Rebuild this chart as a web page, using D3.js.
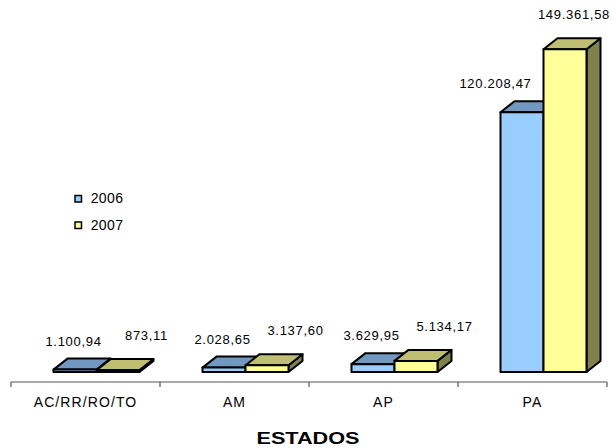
<!DOCTYPE html>
<html>
<head>
<meta charset="utf-8">
<script src="https://cdn.jsdelivr.net/npm/d3@7"></script>
<style>
  html, body { margin: 0; padding: 0; background: #fff; }
  text { font-family: "Liberation Sans", Arial, sans-serif; fill: #000; }
</style>
</head>
<body>
<svg id="chart" width="612" height="448"></svg>
<script>
// ---- data ----
const categories = ["AC/RR/RO/TO", "AM", "AP", "PA"];
const series = ["2006", "2007"];
const values2006 = [1100.94, 2028.65, 3629.95, 120208.47];
const values2007 = [873.11, 3137.60, 5134.17, 149361.58];
const axisTitle = "ESTADOS";

// ---- styles ----
const colors = {
  "2006": { front: "#99CCFF", top: "#7098C0", side: "#4D6680" },
  "2007": { front: "#FFFF99", top: "#BFBF73", side: "#80804D" }
};

const svg = d3.select("#chart");
const W = 612, H = 448;
const depthX = 14, depthY = 11;
const barW = 43;
const groupOffset = 42.5;

const x = d3.scaleBand().domain(categories).range([11, 607]).paddingInner(0).paddingOuter(0);
const xs = d3.scaleBand().domain(series).range([0, barW * 2]);
const y = d3.scaleLinear().domain([0, 160000]).range([372, 26.3]);

const fmt = d3.formatLocale({ decimal: ",", thousands: ".", grouping: [3], currency: ["", ""] }).format(",.2f");

const rows = categories.map((c, i) => ({ cat: c, vals: { "2006": values2006[i], "2007": values2007[i] } }));

// ---- bars ----
const gBars = svg.append("g");
const base = y(0);
function barGeom(c, s, v) {
  const L = x(c) + groupOffset + xs(s);
  const T = y(v);
  return { L, T, B: base, w: xs.bandwidth() };
}
rows.forEach(r => {
  series.forEach(s => {
    const g = barGeom(r.cat, s, r.vals[s]);
    const grp = gBars.append("g")
      .attr("stroke", "#000").attr("stroke-width", 2).attr("stroke-linejoin", "round");
    grp.append("polygon")
      .attr("points", [[g.L + g.w, g.T], [g.L + g.w + depthX, g.T - depthY], [g.L + g.w + depthX, g.B - depthY], [g.L + g.w, g.B]].join(" "))
      .attr("fill", colors[s].side);
    grp.append("polygon")
      .attr("points", [[g.L, g.T], [g.L + depthX, g.T - depthY], [g.L + g.w + depthX, g.T - depthY], [g.L + g.w, g.T]].join(" "))
      .attr("fill", colors[s].top);
    grp.append("rect")
      .attr("x", g.L).attr("y", g.T).attr("width", g.w).attr("height", Math.max(0, g.B - g.T))
      .attr("fill", colors[s].front);
  });
});

// ---- value labels ----
const gLabels = svg.append("g").attr("font-size", 13).attr("letter-spacing", 0.7).attr("text-anchor", "middle");
rows.forEach(r => {
  const g6 = barGeom(r.cat, "2006", r.vals["2006"]);
  const g7 = barGeom(r.cat, "2007", r.vals["2007"]);
  // 2006 label
  const t6 = gLabels.append("text").text(fmt(r.vals["2006"]));
  const w6 = t6.node().getComputedTextLength();
  let cx6 = g6.L + 20;
  const by6 = g6.T - 24;
  if (g7.T - depthY < by6 && cx6 + w6 / 2 > g7.L - 12) cx6 = g7.L - 12 - w6 / 2;
  t6.attr("x", cx6).attr("y", by6);
  // 2007 label
  const t7 = gLabels.append("text").text(fmt(r.vals["2007"]));
  const w7 = t7.node().getComputedTextLength();
  let cx7 = Math.min(g7.L + 50, W - w7 / 2 - 2);
  t7.attr("x", cx7).attr("y", g7.T - 30);
});

// ---- axis ----
const axisY = 382;
const gAxis = svg.append("g").attr("transform", `translate(0,${axisY})`);
gAxis.call(d3.axisBottom(x).tickSize(0).tickPadding(15))
  .call(g => g.select(".domain").remove())
  .selectAll("text")
  .attr("font-size", 14).attr("letter-spacing", 1.1)
  .attr("font-family", "'Liberation Sans', Arial, sans-serif").attr("fill", "#000");
gAxis.append("line").attr("x1", x.range()[0]).attr("x2", x.range()[1]).attr("y1", 0).attr("y2", 0)
  .attr("stroke", "#555").attr("stroke-width", 1.2);
const edges = categories.map(c => x(c)).concat([x(categories[categories.length - 1]) + x.bandwidth()]);
gAxis.selectAll("line.edge").data(edges).join("line").attr("class", "edge")
  .attr("x1", d => d).attr("x2", d => d).attr("y1", 0).attr("y2", 5)
  .attr("stroke", "#555").attr("stroke-width", 1.2);

svg.append("text").attr("x", 308).attr("y", 444).attr("text-anchor", "middle")
  .attr("font-size", 17).attr("font-weight", "bold")
  .attr("textLength", 103).attr("lengthAdjust", "spacingAndGlyphs")
  .text(axisTitle);

// ---- legend ----
const gLeg = svg.append("g").attr("transform", "translate(75,195.5)");
series.forEach((s, i) => {
  const row = gLeg.append("g").attr("transform", `translate(0,${i * 26.5})`);
  row.append("rect").attr("x", 0).attr("y", 0).attr("width", 6.5).attr("height", 6.5)
    .attr("fill", colors[s].front).attr("stroke", "#000").attr("stroke-width", 1.5);
  row.append("text").attr("x", 15.7).attr("y", 7.8).attr("font-size", 14).attr("letter-spacing", 0.4).text(s);
});
</script>
</body>
</html>
